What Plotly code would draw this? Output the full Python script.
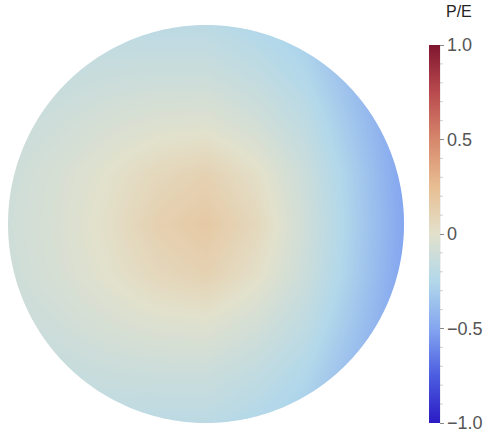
import numpy as np
import plotly.graph_objects as go

# P/E field sampled on a regular grid over the unit disk (x, y in [-1, 1])
grid_x = [-1.0, -0.75, -0.5, -0.25, 0.0, 0.25, 0.5, 0.75, 1.0]
grid_y = [-1.0, -0.75, -0.5, -0.25, 0.0, 0.25, 0.5, 0.75, 1.0]

row_y_m100 = [-0.20, -0.20, -0.19, -0.20, -0.20, -0.25, -0.31, -0.45, -0.60]
row_y_m075 = [-0.17, -0.15, -0.13, -0.12, -0.12, -0.17, -0.25, -0.40, -0.57]
row_y_m050 = [-0.13, -0.10, -0.06, -0.03, -0.02, -0.08, -0.18, -0.35, -0.53]
row_y_m025 = [-0.11, -0.06, 0.00, 0.07, 0.11, 0.02, -0.12, -0.31, -0.51]
row_y_000 = [-0.10, -0.05, 0.02, 0.12, 0.17, 0.07, -0.10, -0.30, -0.50]
row_y_p025 = [-0.11, -0.06, 0.00, 0.07, 0.11, 0.02, -0.12, -0.31, -0.51]
row_y_p050 = [-0.13, -0.10, -0.06, -0.03, -0.02, -0.08, -0.18, -0.35, -0.53]
row_y_p075 = [-0.17, -0.15, -0.13, -0.12, -0.12, -0.17, -0.25, -0.40, -0.57]
row_y_p100 = [-0.20, -0.20, -0.19, -0.20, -0.20, -0.25, -0.31, -0.45, -0.60]

pe_values = [row_y_m100, row_y_m075, row_y_m050, row_y_m025, row_y_000,
             row_y_p025, row_y_p050, row_y_p075, row_y_p100]

major_ticks = [-1.0, -0.5, 0.0, 0.5, 1.0]
major_labels = ["\u22121.0", "\u22120.5", "0", "0.5", "1.0"]

thermometer = [
    [0.000, "#2b1bc4"],
    [0.125, "#4c5de0"],
    [0.250, "#84a6f0"],
    [0.375, "#b2d8ea"],
    [0.500, "#e2e1cc"],
    [0.625, "#e8be92"],
    [0.750, "#d6876c"],
    [0.875, "#b94a4e"],
    [1.000, "#7f1630"],
]

W, H = 491, 435
ML, MR, MT, MB = 8, 84, 25, 12
plot_w = W - ML - MR
plot_h = H - MT - MB

cb_left_px = 432
cb_thick = 11
cb_top_px, cb_bot_px = 45, 423
cb_len = cb_bot_px - cb_top_px

fig = go.Figure()
fig.add_trace(go.Heatmap(
    x=grid_x, y=grid_y, z=pe_values,
    zmin=-1, zmax=1, zsmooth="best",
    colorscale=thermometer,
    hoverinfo="skip",
    colorbar=dict(
        x=(cb_left_px - ML) / plot_w, xanchor="left", xpad=0,
        y=(H - MB - cb_bot_px) / plot_h, yanchor="bottom", ypad=0,
        len=cb_len, lenmode="pixels",
        thickness=cb_thick, thicknessmode="pixels",
        outlinewidth=0,
        tickvals=major_ticks, ticktext=major_labels,
        ticks="outside", ticklen=4, tickwidth=1, tickcolor="#8a8a8a",
        tickfont=dict(family="Liberation Sans, Arial, sans-serif", size=18, color="#555555"),
    ),
))

# Colorbar title
fig.add_annotation(text="P/E", xref="paper", yref="paper",
                   x=(462 - ML) / plot_w, y=(H - MB - 12) / plot_h,
                   xanchor="center", yanchor="middle", showarrow=False,
                   font=dict(family="Liberation Sans, Arial, sans-serif", size=16, color="#222222"))

# White mask leaving only the unit disk visible
theta = np.linspace(0, 2 * np.pi, 361)
outer = "M -2 -2 L 2 -2 L 2 2 L -2 2 Z "
circle = "M " + " L ".join(f"{np.cos(t):.5f} {np.sin(t):.5f}" for t in theta) + " Z"
fig.add_shape(type="path", path=outer + circle, xref="x", yref="y",
              fillcolor="white", line=dict(width=0), layer="above")

# Colorbar axis line and minor ticks
cb_right = (cb_left_px + cb_thick - ML) / plot_w
fig.add_shape(type="line", xref="paper", yref="paper",
              x0=cb_right, x1=cb_right,
              y0=(H - MB - cb_bot_px) / plot_h, y1=(H - MB - cb_top_px) / plot_h,
              line=dict(color="#b8b8b8", width=1))
for k in range(-9, 10):
    v = k / 10
    if abs(k) % 5 == 0:
        continue
    ypx = cb_bot_px - (v + 1) / 2 * cb_len
    yp = (H - MB - ypx) / plot_h
    fig.add_shape(type="line", xref="paper", yref="paper",
                  x0=cb_right, x1=cb_right + 3 / plot_w, y0=yp, y1=yp,
                  line=dict(color="#c8c8c8", width=1))

fig.update_xaxes(range=[-1, 1], visible=False, fixedrange=True)
fig.update_yaxes(range=[-1, 1], visible=False, fixedrange=True)
fig.update_layout(
    width=W, height=H,
    margin=dict(l=ML, r=MR, t=MT, b=MB),
    paper_bgcolor="white", plot_bgcolor="white",
    showlegend=False,
)

fig.write_html("out.html")
